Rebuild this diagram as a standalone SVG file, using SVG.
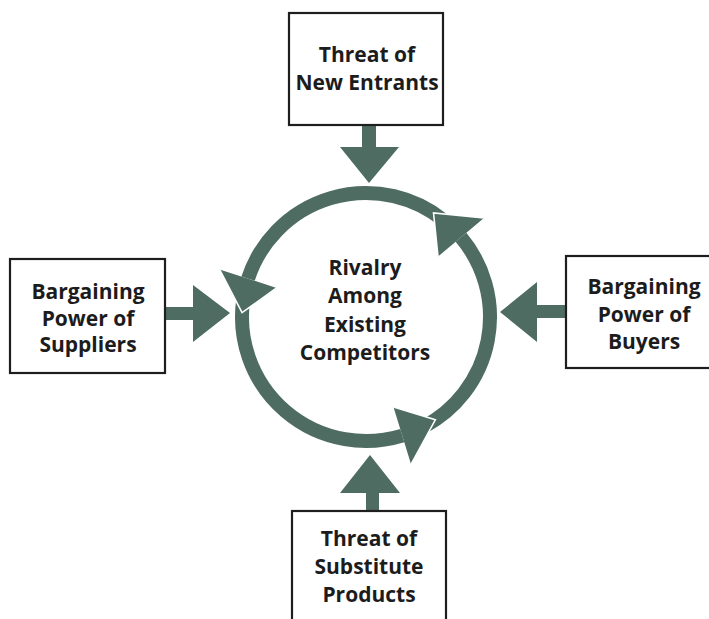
<svg xmlns="http://www.w3.org/2000/svg" width="709" height="619" viewBox="0 0 709 619">
<style>
.box{fill:#fff;stroke:#1e1e1e;stroke-width:2.2}
.t{font-family:"Open Sans","Noto Sans",sans-serif;font-weight:bold;font-size:21px;fill:#1c1c1c;text-anchor:middle}
.g{fill:#4e6c62}
.arc{fill:none;stroke:#4e6c62;stroke-width:14}
.edge{fill:none;stroke:#fff;stroke-width:1.6;stroke-linejoin:miter}
</style>
<rect width="709" height="619" fill="#fff"/>
<g id="connectors">
  <!-- top -->
  <rect class="g" x="362" y="124" width="14" height="24"/>
  <polygon class="g" points="340,147 399,147 369,183"/>
  <!-- bottom -->
  <rect class="g" x="366" y="490" width="13" height="22"/>
  <polygon class="g" points="340,493 400,493 370,455"/>
  <!-- left -->
  <rect class="g" x="164" y="307" width="31" height="13"/>
  <polygon class="g" points="193,285 193,342 230,313"/>
  <!-- right -->
  <rect class="g" x="535" y="305" width="32" height="13"/>
  <polygon class="g" points="537,282 537,342 500,312"/>
  <!-- ring arcs -->
  <path class="arc" d="M424.22,426.48 A124,124 0 0 0 460.98,237.29"/>
  <path class="arc" d="M444.03,220.64 A124,124 0 0 0 248.06,278.68"/>
  <path class="arc" d="M243.20,299.74 A124,124 0 0 0 402.26,435.58"/>
  <!-- heads -->
  <polygon class="g" points="483.96,218.01 438.0,256.58 433.53,213.0"/>
  <polygon class="g" points="219.53,269.41 276.60,287.95 242.07,312.67"/>
  <polygon class="g" points="411.03,464.27 393.49,406.89 435.34,419.80"/>
  <polyline class="edge" points="483.96,218.01 433.53,213.0 438.0,256.58"/>
  <polyline class="edge" points="219.53,269.41 242.07,312.67 276.60,287.95"/>
  <polyline class="edge" points="411.03,464.27 435.34,419.80 393.49,406.89"/>
</g>
<g id="new-entrants">
  <rect class="box" x="289" y="13" width="154" height="112"/>
  <text class="t" x="367" y="62">Threat of</text>
  <text class="t" x="367" y="90">New Entrants</text>
</g>
<g id="suppliers">
  <rect class="box" x="10" y="259" width="155" height="114"/>
  <text class="t" x="88" y="299">Bargaining</text>
  <text class="t" x="88" y="326">Power of</text>
  <text class="t" x="88" y="352">Suppliers</text>
</g>
<g id="buyers">
  <rect class="box" x="566" y="256" width="160" height="112"/>
  <text class="t" x="644" y="294">Bargaining</text>
  <text class="t" x="644" y="322">Power of</text>
  <text class="t" x="644" y="349">Buyers</text>
</g>
<g id="rivalry">
  <text class="t" x="365" y="275">Rivalry</text>
  <text class="t" x="365" y="303">Among</text>
  <text class="t" x="365" y="332">Existing</text>
  <text class="t" x="365" y="360">Competitors</text>
</g>
<g id="substitutes">
  <rect class="box" x="292" y="511" width="154" height="120"/>
  <text class="t" x="369" y="546">Threat of</text>
  <text class="t" x="369" y="574">Substitute</text>
  <text class="t" x="369" y="602">Products</text>
</g>
</svg>
